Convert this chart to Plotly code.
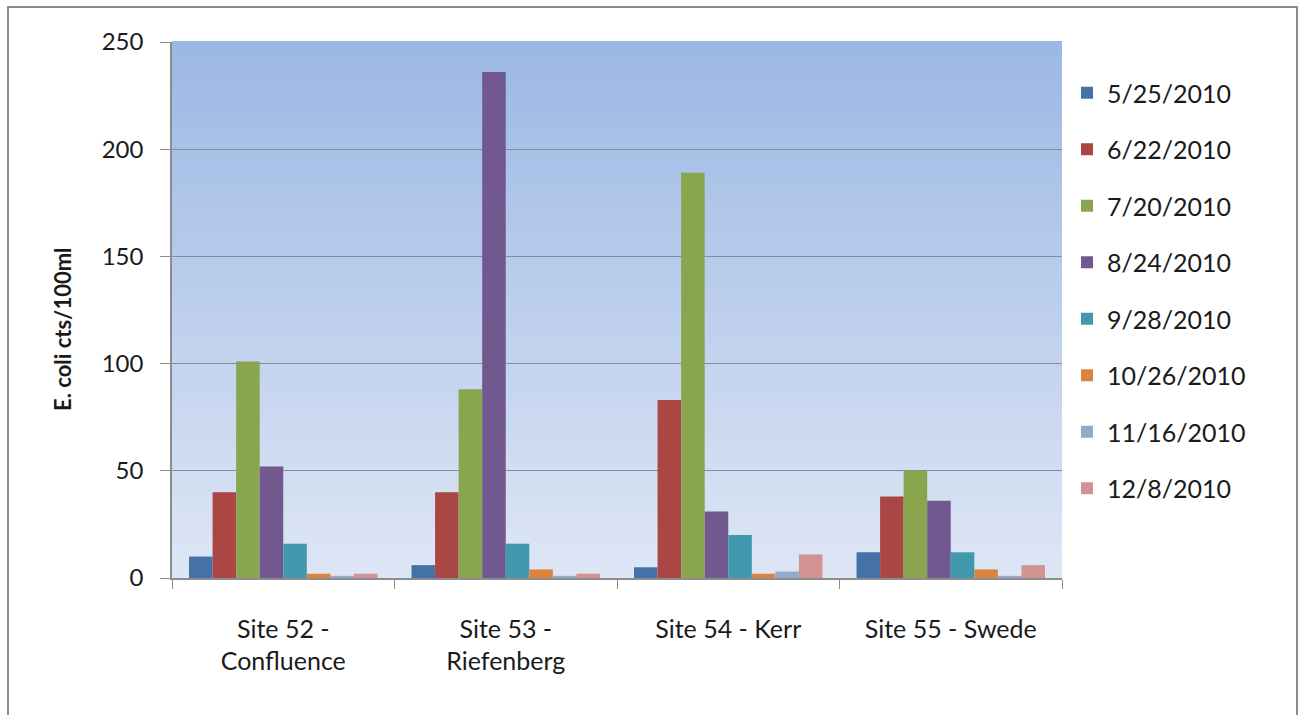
import plotly.graph_objects as go

sites = ["Site 52 -<br>Confluence", "Site 53 -<br>Riefenberg", "Site 54 - Kerr", "Site 55 - Swede"]
dates = ["5/25/2010", "6/22/2010", "7/20/2010", "8/24/2010",
         "9/28/2010", "10/26/2010", "11/16/2010", "12/8/2010"]

v_0525 = [10, 6, 5, 12]
v_0622 = [40, 40, 83, 38]
v_0720 = [101, 88, 189, 50]
v_0824 = [52, 236, 31, 36]
v_0928 = [16, 16, 20, 12]
v_1026 = [2, 4, 2, 4]
v_1116 = [1, 1, 3, 1]
v_1208 = [2, 2, 11, 6]
series = [v_0525, v_0622, v_0720, v_0824, v_0928, v_1026, v_1116, v_1208]

colors = ["#4471a8", "#aa4644", "#89a54e", "#71588f", "#4298af",
          "#db843d", "#93a9cf", "#d19392"]

yticks = [0, 50, 100, 150, 200, 250]

fig = go.Figure()
for i, (d, vals) in enumerate(zip(dates, series)):
    fig.add_trace(go.Bar(x=sites, y=vals, name=d, marker_color=colors[i],
                         marker_line_width=0, legendgroup=d))

# gradient background for plot area
shapes = []
n = 80
top = (155, 184, 228)
bot = (222, 230, 245)
for k in range(n):
    t = k / (n - 1)
    c = tuple(round(bot[j] + (top[j] - bot[j]) * t) for j in range(3))
    shapes.append(dict(type="rect", xref="x domain", yref="y domain",
                       x0=0, x1=1, y0=k / n, y1=(k + 1) / n + 0.002,
                       fillcolor="rgb(%d,%d,%d)" % c, line_width=0, layer="below"))

W, H = 1299, 715
L, R, T, B = 172, W - 1062, 42, H - 578
pw, ph = W - L - R, H - T - B
def px(x):
    return (x - L) / pw
def py(y):
    return (H - B - y) / ph

shapes.append(dict(type="rect", xref="paper", yref="paper",
                   x0=px(8), x1=px(1297), y0=py(725), y1=py(7),
                   line=dict(color="#8c8c8c", width=2), fillcolor="rgba(0,0,0,0)"))

font = "Lato, Liberation Sans, sans-serif"
fig.update_layout(
    width=W, height=H,
    margin=dict(l=L, r=R, t=T, b=B, autoexpand=False),
    paper_bgcolor="white", plot_bgcolor="rgba(0,0,0,0)",
    barmode="group", bargap=0.153, bargroupgap=0,
    shapes=shapes,
    font=dict(family=font, size=22, color="#1a1a1a"),
    showlegend=True,
    legend=dict(x=px(1067), y=py(70), xanchor="left", yanchor="top",
                font=dict(size=25), tracegroupgap=21, traceorder="grouped",
                bgcolor="rgba(0,0,0,0)"),
    xaxis=dict(showline=True, linecolor="#8c8c8c", linewidth=1.5,
               ticks="outside", tickson="boundaries", ticklen=9,
               tickcolor="#8c8c8c", tickfont=dict(size=25),
               ticklabelstandoff=28,
               showgrid=False, automargin=False),
    yaxis=dict(range=[0, 250], tickvals=yticks, showline=True,
               linecolor="#8c8c8c", linewidth=1.5, ticks="outside", ticklen=10,
               tickcolor="#8c8c8c", showgrid=True, gridcolor="#8c8c8c",
               gridwidth=1, zeroline=False, tickfont=dict(size=24),
               ticklabelstandoff=12, automargin=False),
    annotations=[dict(text="<b>E. coli cts/100ml</b>", textangle=-90,
                      xref="paper", yref="paper", x=px(62), y=py(329),
                      xanchor="center", yanchor="middle", showarrow=False,
                      font=dict(size=22))],
)
fig.write_html("out.html")
